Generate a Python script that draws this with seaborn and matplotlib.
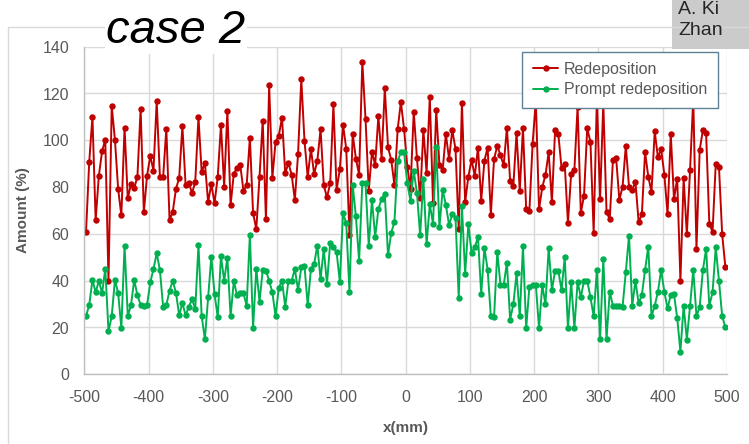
import numpy as np
import pandas as pd
import matplotlib
matplotlib.use("Agg")
import matplotlib.pyplot as plt
from matplotlib.patches import Rectangle
from matplotlib.lines import Line2D
from matplotlib.ticker import MultipleLocator
import seaborn as sns

# Sampling positions along the wall (mm), one every 5 mm
positions_mm = np.arange(-497.5, 500, 5.0)

redeposition = [
    60.7, 90.7, 110.1, 65.8, 84.9, 95.3, 100.3, 39.9, 114.7, 100.3,
    79.2, 67.9, 105.4, 75.2, 81.3, 79.5, 84.5, 113.4, 69.2, 84.9,
    93.3, 87.0, 116.7, 84.5, 84.2, 105.0, 65.8, 69.5, 79.2, 84.0,
    106.0, 80.8, 81.9, 77.4, 82.2, 110.0, 86.3, 90.5, 73.6, 81.2,
    73.2, 84.3, 106.6, 80.2, 112.5, 72.2, 85.8, 88.2, 89.5, 78.5,
    80.8, 101.0, 68.9, 62.0, 84.3, 108.4, 66.2, 123.5, 84.0, 99.3,
    102.0, 109.7, 85.9, 90.3, 85.3, 74.5, 94.2, 126.1, 99.9, 84.3,
    96.3, 85.6, 91.3, 104.7, 80.8, 75.6, 81.6, 115.4, 78.8, 87.7,
    106.6, 96.3, 59.5, 102.7, 92.2, 85.3, 133.5, 109.0, 78.5, 95.0,
    89.6, 110.4, 92.2, 122.2, 97.0, 91.6, 80.8, 104.7, 116.4, 104.7,
    88.7, 79.3, 112.3, 92.4, 75.2, 104.4, 86.2, 118.5, 73.2, 113.0,
    89.3, 87.3, 102.6, 92.0, 104.4, 96.3, 62.0, 116.1, 73.5, 84.5,
    91.6, 84.8, 96.9, 74.2, 91.3, 96.9, 68.2, 92.0, 97.6, 93.6,
    89.3, 105.4, 82.8, 80.5, 103.3, 78.5, 105.3, 70.5, 69.9, 98.6,
    117.0, 70.5, 79.9, 85.2, 94.9, 73.6, 104.4, 102.7, 88.2, 89.7,
    64.7, 85.8, 87.3, 114.4, 68.9, 76.4, 105.1, 99.3, 60.5, 118.0,
    74.9, 116.0, 69.5, 66.2, 91.6, 92.3, 74.5, 80.2, 97.6, 80.2,
    78.8, 82.3, 65.0, 68.4, 94.9, 84.5, 77.9, 103.8, 92.7, 96.3,
    85.3, 68.4, 102.7, 74.8, 83.6, 39.9, 83.9, 59.8, 87.3, 118.0,
    53.6, 95.9, 104.4, 103.0, 64.4, 60.8, 89.9, 88.7, 59.8, 45.7,
]

prompt_redeposition = [
    24.8, 29.6, 40.3, 35.0, 40.0, 34.6, 45.2, 18.4, 24.8, 40.3,
    34.8, 19.7, 55.0, 24.8, 29.6, 40.3, 33.8, 29.6, 29.3, 29.6,
    39.3, 45.0, 51.7, 44.6, 28.9, 29.6, 35.8, 40.0, 34.8, 25.2,
    30.5, 25.2, 28.9, 32.0, 28.0, 55.3, 24.8, 15.0, 32.9, 50.3,
    34.3, 24.4, 50.6, 40.0, 49.7, 24.8, 39.8, 33.8, 34.8, 34.6,
    29.3, 59.7, 19.7, 45.2, 31.0, 44.5, 44.3, 40.0, 35.0, 24.8,
    37.0, 40.0, 28.9, 40.0, 40.0, 44.9, 36.0, 45.7, 46.3, 29.6,
    44.9, 47.2, 55.0, 40.6, 53.6, 38.6, 56.3, 54.6, 52.1, 39.5,
    68.9, 64.5, 35.0, 80.9, 67.5, 48.4, 81.9, 81.6, 55.0, 74.5,
    58.7, 70.5, 75.1, 76.9, 50.9, 60.5, 65.1, 91.0, 95.0, 94.9,
    81.6, 74.1, 86.9, 77.5, 59.4, 83.6, 55.6, 72.6, 64.4, 97.3,
    62.8, 78.8, 72.4, 63.8, 68.4, 67.0, 32.8, 71.8, 43.0, 64.1,
    52.0, 54.3, 58.7, 34.3, 54.1, 44.7, 24.8, 24.4, 52.3, 38.3,
    38.2, 47.7, 23.4, 29.9, 43.2, 24.8, 54.8, 19.7, 37.5, 38.2,
    38.2, 19.7, 38.2, 29.9, 54.0, 36.0, 44.3, 44.2, 36.0, 50.0,
    19.7, 39.5, 19.7, 39.5, 32.9, 40.0, 40.0, 32.9, 24.8, 44.7,
    15.0, 49.3, 15.0, 35.2, 29.3, 29.3, 29.3, 28.9, 43.6, 59.3,
    29.3, 40.0, 30.3, 33.9, 44.6, 54.6, 24.8, 29.3, 35.2, 44.6,
    35.2, 28.2, 33.9, 34.2, 24.1, 9.7, 29.3, 14.8, 29.3, 44.6,
    24.8, 28.9, 44.6, 53.6, 29.3, 35.0, 54.3, 40.0, 24.8, 20.1,
]

series_names = ["Redeposition", "Prompt redeposition"]
series_colors = ["#c00000", "#00b050"]
x_ticks = [-500, -400, -300, -200, -100, 0, 100, 200, 300, 400, 500]
y_ticks = [0, 20, 40, 60, 80, 100, 120, 140]

df = pd.DataFrame({
    "x": np.concatenate([positions_mm, positions_mm]),
    "amount": redeposition + prompt_redeposition,
    "series": [series_names[0]] * len(redeposition) + [series_names[1]] * len(prompt_redeposition),
})

sns.set_theme(style="white")
plt.rcParams["font.family"] = ["Liberation Sans", "DejaVu Sans"]
plt.rcParams["axes.unicode_minus"] = False

W, H = 749, 444
fig = plt.figure(figsize=(W / 100, H / 100), dpi=100)
fig.patch.set_facecolor("white")

# plot area in pixel terms
left_px, right_px, top_px, bottom_px = 84.4, 727.0, 46.7, 374.3
ax = fig.add_axes([left_px / W, 1 - bottom_px / H,
                   (right_px - left_px) / W, (bottom_px - top_px) / H])

palette = dict(zip(series_names, series_colors))
sns.lineplot(data=df, x="x", y="amount", hue="series", hue_order=series_names,
             palette=palette, estimator=None, sort=False, marker="o",
             markersize=4.6, markeredgewidth=0, linewidth=1.4,
             legend=False, ax=ax)

grid_c = "#d9d9d9"
axis_c = "#bfbfbf"
text_c = "#595959"

ax.set_xlim(-500, 500)
ax.set_ylim(0, 140)
ax.set_xticks(x_ticks)
ax.set_yticks(y_ticks)
ax.xaxis.set_minor_locator(MultipleLocator(50))
ax.yaxis.set_minor_locator(MultipleLocator(10))
ax.grid(True, which="major", color=grid_c, linewidth=1.0)
ax.set_axisbelow(True)
for side in ("top", "right"):
    ax.spines[side].set_visible(False)
for side in ("left", "bottom"):
    ax.spines[side].set_color(axis_c)
    ax.spines[side].set_linewidth(1.0)
ax.tick_params(which="both", direction="out", length=5, width=1.0,
               color=axis_c, labelcolor=text_c, labelsize=11.5)
ax.tick_params(axis="x", which="major", pad=6)
ax.tick_params(axis="y", which="major", pad=6)

ax.set_xlabel("x(mm)", fontsize=11, fontweight="bold", color=text_c)
ax.set_ylabel("Amount (%)", fontsize=11, fontweight="bold", color=text_c)
ax.xaxis.set_label_coords(0.5, (bottom_px - 421) / (bottom_px - top_px))
ax.yaxis.set_label_coords((30 - left_px) / (right_px - left_px), 0.5)

handles = [Line2D([], [], color=c, marker="o", markersize=4.6,
                  markeredgewidth=0, linewidth=1.4) for c in series_colors]
leg = ax.legend(handles, series_names, loc="upper right",
                bbox_to_anchor=((717.5 - left_px) / (right_px - left_px),
                                (bottom_px - 51.5) / (bottom_px - top_px)),
                borderaxespad=0, frameon=True, fancybox=False, framealpha=1.0,
                fontsize=11.5, handlelength=1.6, handletextpad=0.35,
                borderpad=0.65, labelspacing=0.35, labelcolor=text_c)
leg.get_frame().set_edgecolor("#5f8196")
leg.get_frame().set_linewidth(1.0)
leg.get_frame().set_facecolor("white")

# outer chart frame
frame_y = 1 - 27 / H
fig.add_artist(Line2D([8 / W, 8 / W], [0, frame_y], color=grid_c, lw=1.0))
fig.add_artist(Line2D([8 / W, 1], [frame_y, frame_y], color=grid_c, lw=1.0))

# title and side note
fig.text(106 / W, 1 - 43 / H, "case 2", fontsize=34, style="italic",
         color="black", va="baseline", ha="left",
         bbox=dict(facecolor="white", edgecolor="none", pad=1))
fig.add_artist(Rectangle((672 / W, 1 - 49 / H), 77 / W, 49 / H,
                         transform=fig.transFigure, facecolor="#cbcbcb",
                         edgecolor="none"))
fig.text(678 / W, 1 - 13.5 / H, "A. Ki", fontsize=14, color="#262626",
         va="baseline", ha="left")
fig.text(678 / W, 1 - 35 / H, "Zhan", fontsize=14, color="#262626",
         va="baseline", ha="left")

fig.savefig("out.png", dpi=100)
